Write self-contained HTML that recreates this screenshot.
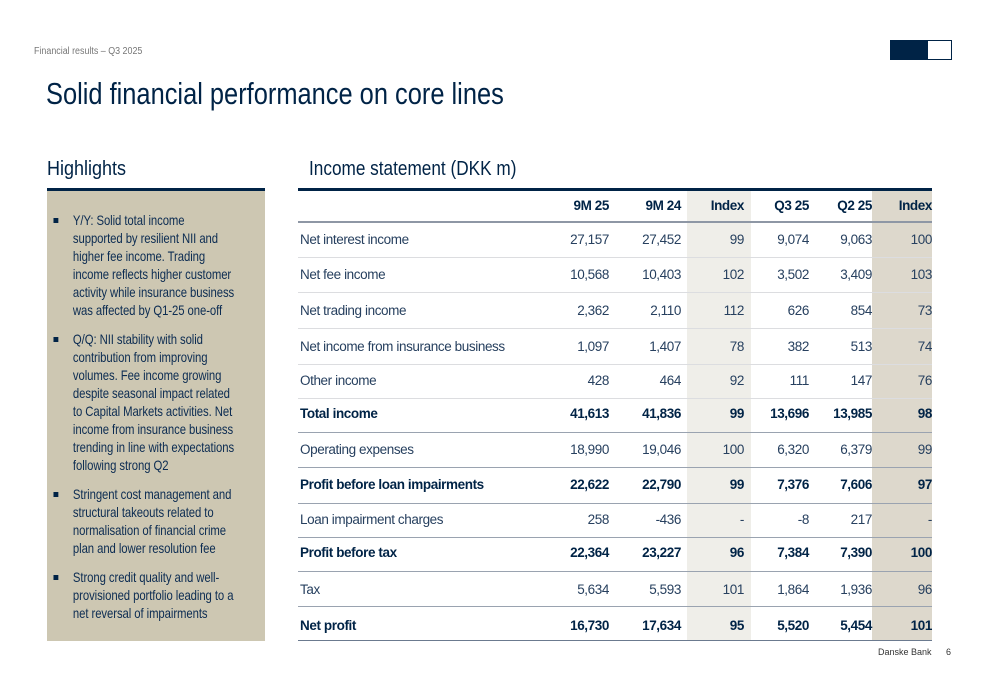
<!DOCTYPE html>
<html><head><meta charset="utf-8"><style>
*{margin:0;padding:0;box-sizing:border-box}
body{width:1000px;height:685px;background:#fff;font-family:"Liberation Sans",sans-serif;color:#002346;position:relative;overflow:hidden}
.abs{position:absolute}
.sx{transform:scaleX(0.89);transform-origin:left top;white-space:nowrap}
.hl{position:absolute;left:47px;top:188px;width:218px;height:453px;background:#cdc7b2;border-top:3px solid #002346}
.hl ul{list-style:none;padding:20px 0 0 20px;width:234px;transform:scaleX(0.81);transform-origin:left top}
.hl li{font-size:14px;line-height:18px;color:#0c2c52;position:relative;padding-left:12px;margin-bottom:11px;letter-spacing:-0.1px}
.hl li:before{content:"";position:absolute;left:-12px;top:7px;width:6px;height:5px;background:#002346}
.sh{position:absolute;top:191px;height:450px}
.row{position:absolute;left:298px;width:634px;font-size:13.5px;color:#27405f;letter-spacing:-0.4px}
.row span{position:absolute;top:0}
.row .l{left:2px}
.n{text-align:right;width:80px}
.b{font-weight:bold;color:#002346}
.line{position:absolute;left:298px;width:634px;height:1px;background:#dcdde0}
</style></head><body>
<div class="abs sx" style="left:34px;top:46px;font-size:10px;color:#777">Financial results – Q3 2025</div>
<div class="abs" style="left:890px;top:40px;width:62px;height:20px;background:#fff;border:1px solid #002346"></div>
<div class="abs" style="left:890px;top:40px;width:38px;height:20px;background:#002346"></div>
<div class="abs sx" style="left:46px;top:76px;font-size:31px;color:#002346;transform:scaleX(0.82)">Solid financial performance on core lines</div>
<div class="abs sx" style="left:47px;top:158px;font-size:20px;transform:scaleX(0.9)">Highlights</div>
<div class="abs sx" style="left:309px;top:158px;font-size:20px;transform:scaleX(0.86)">Income statement (DKK m)</div>
<div class="hl"><ul>
<li>Y/Y: Solid total income supported by resilient NII and higher fee income. Trading income reflects higher customer activity while insurance business was affected by Q1-25 one-off</li>
<li>Q/Q: NII stability with solid contribution from improving volumes. Fee income growing despite seasonal impact related to Capital Markets activities. Net income from insurance business trending in line with expectations following strong Q2</li>
<li>Stringent cost management and structural takeouts related to normalisation of financial crime plan and lower resolution fee</li>
<li>Strong credit quality and well-provisioned portfolio leading to a net reversal of impairments</li>
</ul></div>
<div class="sh" style="left:687px;width:64px;background:#efeee9"></div>
<div class="sh" style="left:872px;width:60px;background:#ddd8cc"></div>
<div class="abs" style="left:298px;top:188px;width:634px;height:3px;background:#002346"></div>
<div class="abs" style="left:298px;top:221px;width:634px;height:2px;background:#8e97a5"></div>
<div class="abs" style="left:298px;top:640px;width:634px;height:1px;background:#6b7a8f"></div>
<div id="t"></div>
<div class="abs" style="left:878px;top:647px;font-size:9px;color:#333">Danske Bank</div>
<div class="abs" style="left:946px;top:647px;font-size:9px;color:#333">6</div>
<script>
var rows=[
["",["9M 25","9M 24","Index","Q3 25","Q2 25","Index"],198,1],
["Net interest income",["27,157","27,452","99","9,074","9,063","100"],232,0],
["Net fee income",["10,568","10,403","102","3,502","3,409","103"],267,0],
["Net trading income",["2,362","2,110","112","626","854","73"],303,0],
["Net income from insurance business",["1,097","1,407","78","382","513","74"],339,0],
["Other income",["428","464","92","111","147","76"],373,0],
["Total income",["41,613","41,836","99","13,696","13,985","98"],406,1],
["Operating expenses",["18,990","19,046","100","6,320","6,379","99"],442,0],
["Profit before loan impairments",["22,622","22,790","99","7,376","7,606","97"],477,1],
["Loan impairment charges",["258","-436","-","-8","217","-"],512,0],
["Profit before tax",["22,364","23,227","96","7,384","7,390","100"],545,1],
["Tax",["5,634","5,593","101","1,864","1,936","96"],582,0],
["Net profit",["16,730","17,634","95","5,520","5,454","101"],618,1]];
var rights=[609,681,744,809,872,932],h="";
rows.forEach(function(r){h+='<div class="row'+(r[3]?' b':'')+'" style="top:'+r[2]+'px"><span class="l">'+r[0]+'</span>';
r[1].forEach(function(v,i){h+='<span class="n" style="left:'+(rights[i]-298-80)+'px">'+v+'</span>'});h+='</div>';});
[257,292,328,364,398,432,467,503,537,571,606].forEach(function(y,i){h+='<div class="line" style="top:'+y+'px;'+(i>=5?'background:#9aa3b0':'')+'"></div>'});
document.getElementById('t').innerHTML=h;
</script>
</body></html>
